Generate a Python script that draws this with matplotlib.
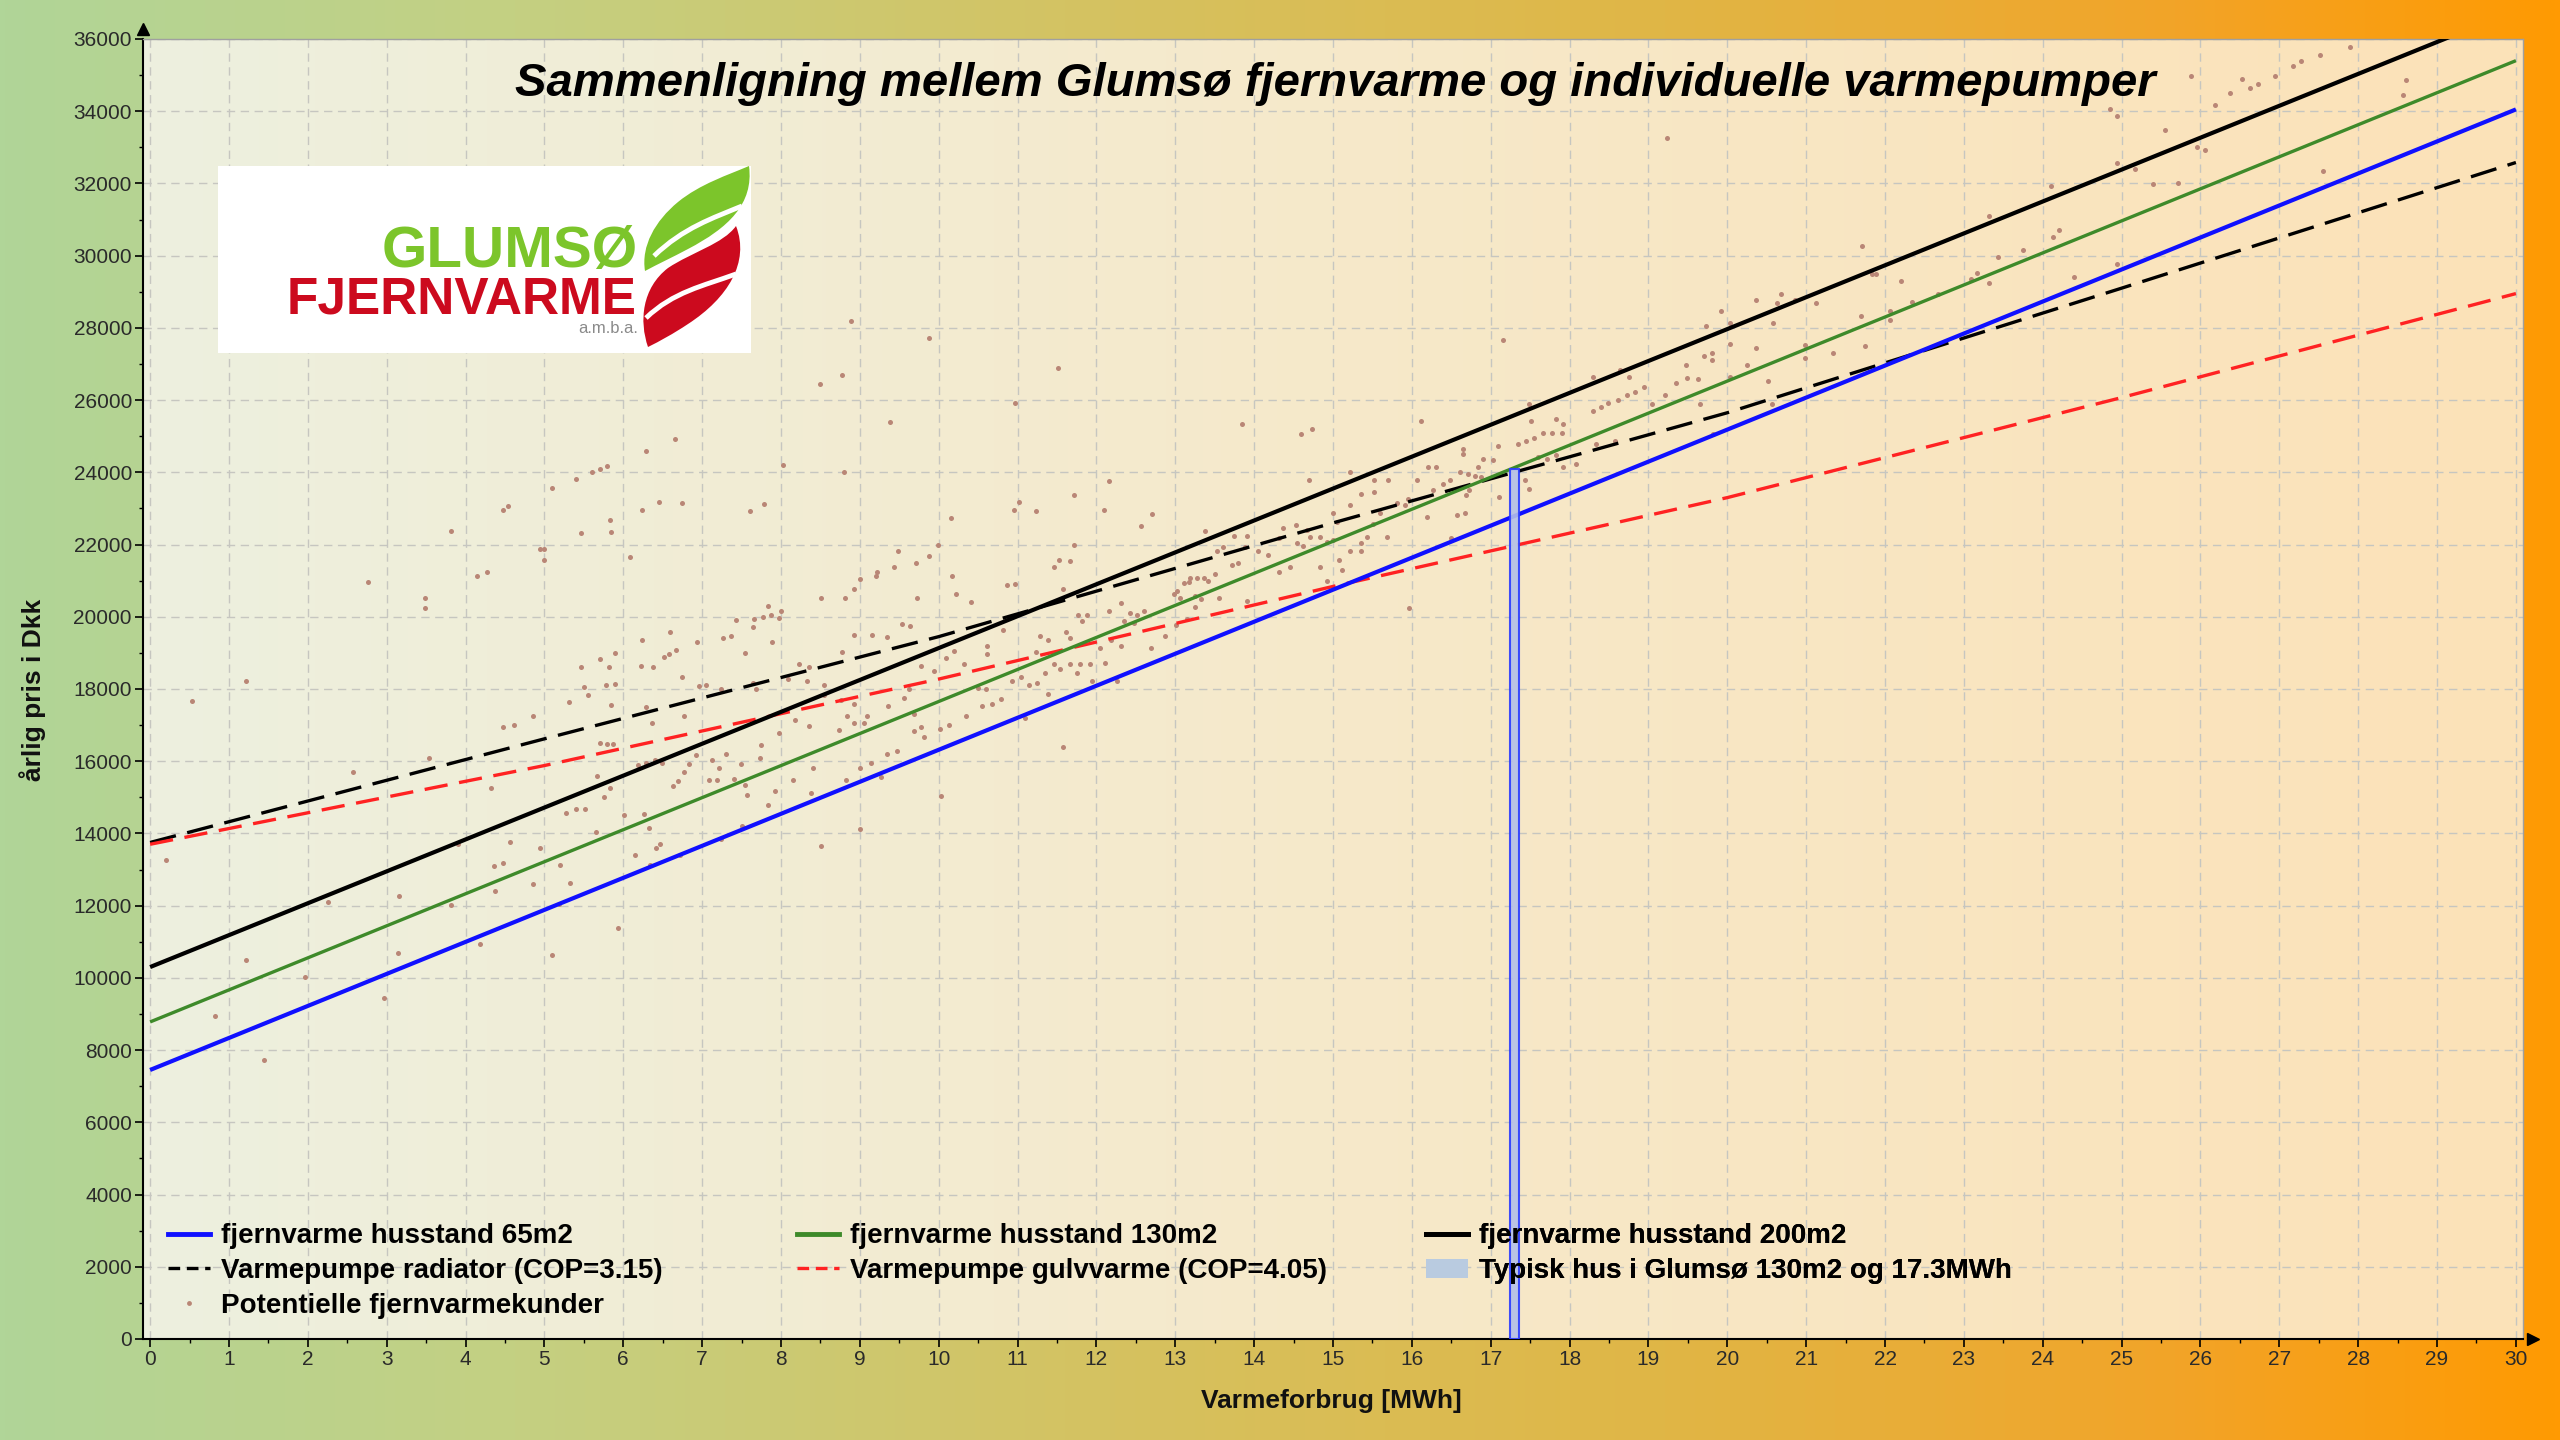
import numpy as np
import matplotlib.pyplot as plt
from matplotlib.lines import Line2D
from matplotlib.patches import Patch, PathPatch
from matplotlib.path import Path
from matplotlib.ticker import MultipleLocator

plt.rcParams['font.family'] = ['Liberation Sans', 'DejaVu Sans']

# district heating lines (straight) - read at both ends
fv_mwh = [0, 30]
fv_65 = [7450, 34050]
fv_130 = [8780, 35400]
fv_200 = [10300, 36800]

# heat pump curves, read every 5 MWh
hp_mwh = [0, 5, 10, 15, 20, 25, 30]
hp_radiator = [13750, 16620, 19450, 22600, 25650, 29100, 32580]
hp_gulv = [13700, 15880, 18275, 20840, 23300, 26070, 28950]

# typical house
typisk_mwh = 17.3
typisk_dkk = 24100

# potential customers (MWh, DKK)
kunder = [
    (0.2, 13260), (0.53, 17660), (0.82, 8940), (1.22, 18230), (1.22, 10500), (1.44, 7730),
    (1.97, 10030), (2.26, 12100), (2.57, 15700), (2.76, 20970), (2.97, 9430), (3.14, 10700),
    (3.16, 12270), (3.49, 20530), (3.49, 20250), (3.54, 16100), (3.81, 22380), (3.81, 12010),
    (3.9, 13710), (4.15, 21130), (4.27, 21240), (4.18, 10950), (4.32, 15270), (4.47, 22970),
    (4.54, 23070), (4.36, 13090), (4.48, 13190), (4.37, 12410), (4.48, 16950), (4.57, 13760),
    (4.62, 16990), (4.86, 17260), (4.85, 12590), (4.94, 13610), (4.94, 21870), (5.0, 21870),
    (4.99, 21560), (5.1, 23570), (5.1, 10640), (5.19, 12060), (5.2, 13120), (5.27, 14570),
    (5.31, 17630), (5.33, 12620), (5.4, 23810), (5.4, 14680), (5.47, 22310), (5.47, 18620),
    (5.5, 18050), (5.55, 17830), (5.52, 14680), (5.6, 24000), (5.7, 24080), (5.8, 24180),
    (5.7, 18820), (5.83, 22690), (5.85, 22340), (5.89, 19000), (5.82, 18620), (5.78, 18120),
    (5.9, 18150), (5.85, 17560), (5.79, 16480), (5.87, 16480), (5.67, 15600), (5.83, 15250),
    (5.76, 15000), (6.01, 14510), (5.66, 14040), (6.15, 13400), (6.08, 21660), (6.29, 24580),
    (6.24, 22970), (6.24, 19360), (6.22, 18650), (6.38, 18620), (6.29, 17490), (6.36, 17060),
    (6.45, 23180), (6.52, 18880), (6.58, 18980), (6.67, 19080), (6.59, 19580), (6.65, 24920),
    (6.74, 23160), (6.75, 18320), (6.77, 17260), (6.94, 19290), (6.96, 18080), (6.26, 14540),
    (6.33, 14150), (6.42, 13610), (6.47, 13710), (5.93, 11390), (6.4, 16030), (6.49, 15960),
    (6.63, 15320), (6.7, 15460), (6.77, 15700), (6.83, 15930), (6.92, 16170), (5.7, 16500),
    (6.19, 15890), (6.29, 15960), (6.72, 13400), (6.34, 13120),
    (8.89, 28190), (9.88, 27710), (8.5, 26450), (8.77, 26700), (9.38, 25400), (10.97, 25930),
    (11.51, 26890), (8.03, 24190), (8.8, 24000), (7.61, 22940), (7.79, 23130), (10.95, 22970),
    (11.02, 23170), (11.23, 22940), (10.15, 22730), (11.72, 23370), (12.16, 23750), (12.1, 22970),
    (12.56, 22500), (12.71, 22850), (9.99, 21980), (11.71, 21980), (9.49, 21830), (9.88, 21680),
    (9.71, 21480), (9.43, 21390), (9.22, 21250), (9.2, 21140), (9.0, 21050), (8.92, 20760),
    (8.51, 20510), (8.81, 20510), (9.73, 20510), (10.17, 21140), (10.22, 20620), (10.41, 20420),
    (10.87, 20880), (10.97, 20910), (11.46, 21370), (11.52, 21560), (11.67, 21540), (11.57, 20760),
    (7.83, 20310), (7.43, 19900), (7.66, 19940), (7.77, 20000), (7.87, 20050), (7.97, 19960),
    (8.0, 20170), (7.64, 19710), (7.26, 19420), (7.37, 19480), (7.88, 19300), (7.54, 19000),
    (8.92, 19500), (9.16, 19500), (9.34, 19450), (9.53, 19800), (9.64, 19740), (8.78, 19020),
    (8.23, 18680), (8.36, 18620), (8.09, 18270), (8.33, 18220), (7.24, 17990), (7.64, 18160),
    (7.68, 17990), (7.05, 18100), (8.54, 18100), (8.18, 17130), (8.36, 16980), (7.98, 16780),
    (7.75, 16440), (7.3, 16210), (7.12, 16040), (7.49, 15930), (7.74, 16100), (7.21, 15810),
    (7.09, 15490), (7.19, 15490), (7.41, 15520), (7.54, 15350), (7.57, 15070), (7.92, 15180),
    (8.15, 15490), (7.83, 14780), (8.38, 15120), (8.41, 15810), (8.51, 13660), (9.0, 14110),
    (7.5, 14210), (7.24, 13860), (8.82, 15490), (9.0, 15810), (9.14, 15960), (9.27, 15560),
    (9.35, 16210), (9.47, 16270), (8.74, 16870), (8.84, 17240), (8.93, 17070), (9.05, 17070),
    (9.09, 17240), (8.55, 17820), (8.76, 17700), (8.93, 17590), (9.36, 17530), (9.56, 17760),
    (9.62, 17990), (9.69, 17300), (9.77, 16960), (9.69, 16840), (9.81, 16670), (10.02, 16900),
    (10.13, 17010), (10.03, 15030), (10.34, 17240), (9.77, 18650), (9.94, 18500), (10.09, 18850),
    (10.19, 19040), (10.32, 18680), (10.5, 18040), (10.6, 17990), (10.55, 17530), (10.68, 17590),
    (10.79, 17720), (10.61, 19190), (10.61, 18960), (10.81, 19620), (10.93, 18220), (11.04, 18330),
    (11.14, 18100), (11.25, 18160), (11.35, 18450), (11.39, 17870), (11.1, 17210), (11.28, 19480),
    (11.39, 19360), (11.24, 19020), (11.46, 18680), (11.54, 18560), (11.66, 18700), (11.61, 19590),
    (11.67, 19420), (11.77, 20050), (11.82, 19880), (11.88, 20050), (11.79, 18680), (11.92, 18680),
    (11.75, 18450), (11.94, 18220), (12.11, 18730), (11.57, 16380), (12.26, 18220), (12.05, 19130),
    (12.18, 19360), (12.31, 19190), (12.16, 20170), (12.31, 20390), (12.43, 20110), (12.51, 20050),
    (12.6, 20170), (12.35, 19880), (12.48, 19820), (12.98, 20620), (13.06, 20510), (13.15, 19940),
    (13.25, 20280), (12.87, 19480), (13.01, 19760), (12.69, 19130), (13.17, 20970), (13.27, 21080),
    (17.16, 27670), (13.84, 25340), (14.6, 25060), (14.74, 25200), (16.11, 25430), (17.49, 25900),
    (17.51, 25430), (18.3, 26640), (18.3, 25700), (18.4, 25800), (17.83, 25470), (17.92, 25340),
    (17.9, 25100), (17.78, 25100), (17.66, 25100), (17.55, 24960), (17.45, 24870), (17.34, 24790),
    (17.83, 24470), (17.92, 24140), (18.34, 24790), (18.08, 24240), (16.65, 24650), (16.65, 24510),
    (17.09, 24740), (16.9, 24370), (17.03, 24330), (16.84, 24140), (17.6, 24420), (17.72, 24370),
    (17.43, 23780), (17.49, 23550), (17.11, 23320), (16.73, 23500), (16.69, 23360), (16.61, 24000),
    (16.71, 23960), (16.8, 23910), (16.88, 23870), (16.48, 23780), (16.39, 23690), (16.31, 24140),
    (16.21, 24140), (16.27, 23500), (16.57, 22810), (16.67, 22860), (16.19, 22770), (16.06, 23780),
    (15.95, 23270), (15.81, 23140), (15.91, 23090), (15.7, 23800), (15.52, 23780), (15.52, 23460),
    (15.35, 23410), (15.22, 24000), (15.22, 23090), (14.69, 23800), (15.0, 22860), (15.05, 22630),
    (15.59, 22860), (15.51, 22580), (15.43, 22220), (15.36, 22030), (15.68, 22220), (15.22, 21810),
    (15.35, 21810), (15.08, 21580), (15.11, 21300), (14.92, 22080), (15.0, 22130), (14.84, 22220),
    (14.71, 22220), (14.67, 22400), (14.53, 22540), (14.37, 22450), (14.31, 22170), (14.54, 22030),
    (14.62, 21960), (14.46, 21390), (14.31, 21230), (14.84, 21390), (14.92, 20980), (13.91, 22240),
    (13.89, 21940), (14.05, 21810), (14.18, 21710), (13.74, 22240), (13.38, 22380), (13.72, 21440),
    (13.8, 21480), (13.61, 21940), (13.53, 21810), (13.51, 21190), (13.36, 21070), (13.42, 20980),
    (13.19, 21070), (13.11, 20930), (13.02, 20700), (13.25, 20570), (13.32, 20480), (13.55, 20520),
    (13.91, 20430), (15.97, 20250), (16.5, 22170),
    (19.23, 33250), (21.71, 30280), (21.83, 29490), (21.89, 29490), (22.2, 29300), (22.34, 28720),
    (23.32, 31090), (23.43, 29970), (23.75, 30170), (24.1, 31930), (24.13, 30530), (24.21, 30710),
    (24.4, 29410), (23.09, 29350), (23.17, 29530), (23.32, 29250), (22.67, 28930), (22.06, 28460),
    (22.06, 28230), (21.69, 28320), (21.74, 27490), (21.34, 27300), (21.12, 28700), (20.86, 28760),
    (20.68, 28950), (20.63, 28700), (20.36, 28760), (20.58, 28140), (20.98, 27530), (20.98, 27160),
    (20.36, 27440), (20.52, 26530), (20.25, 26960), (20.03, 28140), (20.03, 27550), (20.03, 26650),
    (19.92, 28480), (19.73, 28050), (19.81, 27300), (19.81, 27120), (19.7, 27210), (19.48, 26960),
    (19.49, 26620), (19.63, 26590), (19.35, 26460), (19.65, 25880), (19.21, 26140), (19.04, 25880),
    (18.95, 26370), (18.83, 26230), (18.73, 26140), (18.62, 26000), (18.49, 25910), (18.64, 26840),
    (18.75, 26650), (18.57, 24860), (19.82, 25070), (20.57, 25880),
    (27.9, 35780), (27.51, 35560), (27.28, 35380), (27.17, 35240), (26.95, 34980), (26.73, 34760),
    (26.63, 34640), (26.53, 34890), (26.38, 34510), (26.18, 34160), (25.88, 34980), (25.55, 33490),
    (24.85, 34070), (24.94, 33860), (24.94, 32570), (25.17, 32390), (25.95, 33020), (26.06, 32920),
    (25.4, 31980), (25.71, 32000), (24.94, 29770), (27.55, 32340), (28.61, 34870), (28.57, 34460),
]

labels = {
    'fv65': 'fjernvarme husstand 65m2',
    'fv130': 'fjernvarme husstand 130m2',
    'fv200': 'fjernvarme husstand 200m2',
    'rad': 'Varmepumpe radiator (COP=3.15)',
    'gulv': 'Varmepumpe gulvvarme (COP=4.05)',
    'typ': 'Typisk hus i Glumsø 130m2 og 17.3MWh',
    'kunder': 'Potentielle fjernvarmekunder',
}

W, H = 2560, 1440
fig = plt.figure(figsize=(W / 100, H / 100), dpi=100)


def gradient(stops, n=512):
    pos = [s[0] for s in stops]
    cols = np.array([s[1] for s in stops], dtype=float) / 255
    t = np.linspace(0, 1, n)
    row = np.stack([np.interp(t, pos, cols[:, i]) for i in range(3)], axis=1)
    return row[np.newaxis, :, :]


# figure background: green -> ochre -> orange
bg = fig.add_axes([0, 0, 1, 1], zorder=-10)
bg.imshow(gradient([(0.0, (176, 213, 152)), (0.2, (196, 208, 130)), (0.45, (214, 193, 94)),
                    (0.65, (224, 182, 70)), (0.85, (242, 164, 40)), (1.0, (255, 154, 2))]),
          extent=[0, 1, 0, 1], aspect='auto')
bg.axis('off')

ax = fig.add_axes([143 / W, (H - 1339) / H, (2523 - 143) / W, (1339 - 39) / H], zorder=1)
ax.imshow(gradient([(0.0, (237, 240, 223)), (0.5, (246, 233, 202)), (1.0, (252, 226, 184))]),
          extent=[0, 1, 0, 1], transform=ax.transAxes, aspect='auto', zorder=-5)

kx, ky = np.array(kunder).T
ax.scatter(kx, ky, s=13, color='#b98676', linewidths=0, zorder=2)

ax.plot(hp_mwh, hp_radiator, color='black', lw=2.4, dashes=[8, 3.5], zorder=3)
ax.plot(hp_mwh, hp_gulv, color='#ff2222', lw=2.4, dashes=[7, 3.5], zorder=3)
ax.plot(fv_mwh, fv_65, color='#1010ff', lw=3.0, zorder=3, solid_capstyle='butt')
ax.plot(fv_mwh, fv_130, color='#3e8a2a', lw=2.4, zorder=3, solid_capstyle='butt')
ax.plot(fv_mwh, fv_200, color='black', lw=3.0, zorder=3, solid_capstyle='butt')

ax.bar([typisk_mwh], [typisk_dkk], width=0.12, color='#b4bfe8', edgecolor='#2a3cff',
       linewidth=1.5, alpha=0.9, zorder=4)

ax.set_xlim(-0.09, 30.09)
ax.set_ylim(0, 36000)
ax.xaxis.set_major_locator(MultipleLocator(1))
ax.xaxis.set_minor_locator(MultipleLocator(0.5))
ax.yaxis.set_major_locator(MultipleLocator(2000))
ax.yaxis.set_minor_locator(MultipleLocator(1000))
ax.grid(True, which='major', color='#c6c6c0', lw=1.0, ls=(0, (6, 4)))
ax.set_axisbelow(True)
ax.tick_params(which='major', length=6, width=1.2, color='black', labelsize=15,
               labelcolor='#2a2a2a', pad=2)
ax.tick_params(which='minor', length=3, width=1.0, color='black')

for side in ['top', 'right']:
    ax.spines[side].set_color('#a0a0a0')
    ax.spines[side].set_linewidth(1.0)
for side in ['left', 'bottom']:
    ax.spines[side].set_color('black')
    ax.spines[side].set_linewidth(1.5)
ax.plot([0], [1.008], marker='^', ms=8, color='black', transform=ax.transAxes, clip_on=False)
ax.plot([1.004], [0], marker='>', ms=8, color='black', transform=ax.transAxes, clip_on=False)

fig.text(1335 / W, 1 - 84 / H, 'Sammenligning mellem Glumsø fjernvarme og individuelle varmepumper',
         ha='center', va='center', fontsize=34, fontweight='bold', fontstyle='italic', zorder=5)
fig.text(33 / W, 1 - 690 / H, 'årlig pris i Dkk', rotation=90, ha='center', va='center',
         fontsize=19, fontweight='bold', color='#111111')
fig.text(1331 / W, 1 - 1401 / H, 'Varmeforbrug [MWh]', ha='center', va='center',
         fontsize=19, fontweight='bold', color='#111111')

# legend: three columns placed as in the reference
h_fv65 = Line2D([], [], color='#1010ff', lw=3.5)
h_fv130 = Line2D([], [], color='#3e8a2a', lw=3.5)
h_fv200 = Line2D([], [], color='black', lw=3.5)
h_rad = Line2D([], [], color='black', lw=2.4, dashes=[3.5, 2])
h_gulv = Line2D([], [], color='#ff2222', lw=2.4, dashes=[3.5, 2])
h_typ = Patch(facecolor='#b9cbe0', edgecolor='none')
h_kund = Line2D([], [], color='#b98676', marker='o', ms=3.5, lw=0, markeredgewidth=0)

leg_kw = dict(loc='upper left', frameon=False, borderaxespad=0, borderpad=0,
              handlelength=1.5, handletextpad=0.4, labelspacing=0.32,
              prop={'weight': 'bold', 'size': 20})
columns = [
    (0.0105, [h_fv65, h_rad, h_kund], [labels['fv65'], labels['rad'], labels['kunder']]),
    (0.2748, [h_fv130, h_gulv], [labels['fv130'], labels['gulv']]),
    (0.5391, [h_fv200, h_typ], [labels['fv200'], labels['typ']]),
]
for xpos, hs, ls in columns:
    leg = ax.legend(hs, ls, bbox_to_anchor=(xpos, 0.089), **leg_kw)
    leg.set_zorder(6)
    ax.add_artist(leg)

# logo
logo = fig.add_axes([218 / W, 1 - 353 / H, 533 / W, 187 / H], zorder=5)
logo.set_xlim(0, 533)
logo.set_ylim(187, 0)
logo.set_facecolor('white')
logo.set_xticks([])
logo.set_yticks([])
for s in logo.spines.values():
    s.set_visible(False)
logo.text(420, 101, 'GLUMSØ', ha='right', va='baseline', fontsize=42, fontweight='bold',
          color='#7cc52b')
logo.text(419, 148, 'FJERNVARME', ha='right', va='baseline', fontsize=37, fontweight='bold',
          color='#cc0a1e')
logo.text(420, 167, 'a.m.b.a.', ha='right', va='baseline', fontsize=12, color='#8a8a8a')


def shape(verts, color):
    codes = [Path.MOVETO] + [Path.CURVE4] * (len(verts) - 2) + [Path.CLOSEPOLY]
    logo.add_patch(PathPatch(Path(verts, codes), facecolor=color, edgecolor='none'))


def stripe(verts):
    codes = [Path.MOVETO] + [Path.CURVE4] * (len(verts) - 1)
    logo.add_patch(PathPatch(Path(verts, codes), facecolor='none', edgecolor='white', lw=3.5))


shape([(531, 0), (536, 38), (510, 62), (470, 83), (455, 91), (440, 98), (427, 105),
       (423, 80), (437, 55), (460, 36), (482, 18), (510, 9), (531, 0), (531, 0)], '#7cc52b')
stripe([(436, 90), (465, 62), (495, 52), (524, 40)])
shape([(518, 60), (532, 96), (510, 132), (470, 158), (455, 168), (442, 175), (430, 181),
       (421, 155), (424, 122), (450, 102), (474, 86), (505, 78), (518, 60), (518, 60)], '#cc0a1e')
stripe([(428, 152), (455, 126), (485, 120), (518, 108)])

fig.savefig('out.png', dpi=100)
